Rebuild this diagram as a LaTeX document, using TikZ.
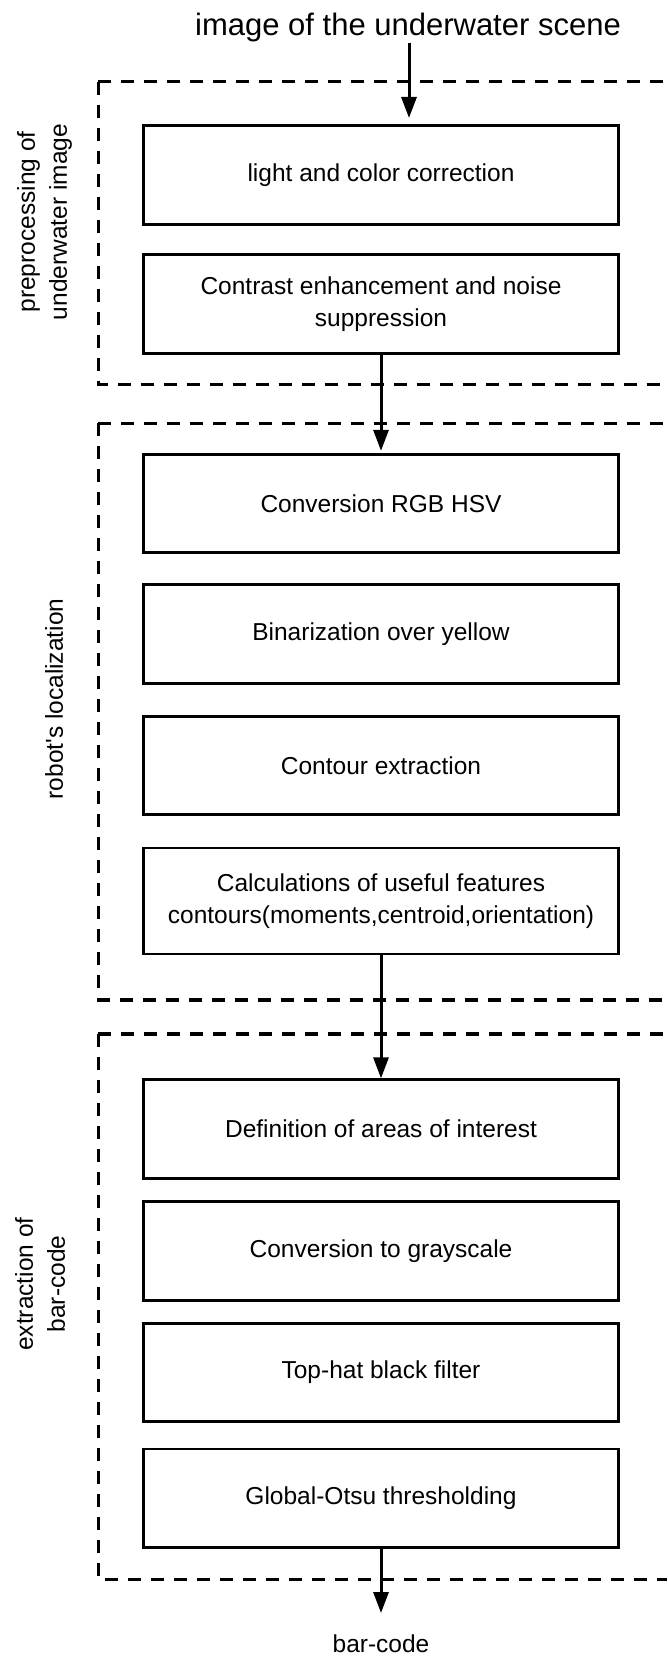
\documentclass[tikz,border=0pt]{standalone}
\usepackage{fontspec}
\setmainfont{Liberation Sans}
\usetikzlibrary{arrows.meta}
\begin{document}
\begin{tikzpicture}[x=1pt,y=-1pt,
  box/.style={draw, line width=2.8pt, minimum width=474.6pt, minimum height=98.5pt,
    inner sep=0pt, align=center, font=\fontsize{24.5}{32}\selectfont},
  grp/.style={line width=3.2pt, dash pattern=on 13pt off 10pt},
  arr/.style={line width=3pt, -{Triangle[length=21pt,width=15pt]}},
  lbl/.style={rotate=90, align=center, inner sep=0pt, font=\fontsize{24.5}{32}\selectfont},
  ttl/.style={inner sep=0pt, anchor=base}
]
\useasboundingbox (0,0) rectangle (667,1656);

% group frames
\draw[grp] (98.3,81.7) -- (667,81.7);
\draw[grp] (98.3,81.7) -- (98.3,384.3) -- (667,384.3);
\draw[grp] (98.3,423.3) -- (667,423.3);
\draw[grp] (98.3,423.3) -- (98.3,1000) -- (667,1000);
\draw[grp] (98.3,1034) -- (667,1034);
\draw[grp] (98.3,1034) -- (98.3,1579.5) -- (667,1579.5);

% group labels
\node[lbl] (l1) at (44.5,222) {preprocessing of\\underwater image};
\node[lbl] (l2) at (54,699) {robot\textquotesingle s localization};
\node[lbl] (l3) at (40,1284) {extraction of\\bar-code};

% title and output
\node[ttl, font=\fontsize{31}{36}\selectfont] (title) at (408,36) {image of the underwater scene};
\node[ttl, font=\fontsize{24.5}{32}\selectfont] (out) at (381,1652) {bar-code};

% process boxes
\node[box] (b1) at (381,175) {light and color correction};
\node[box] (b2) at (381,304) {Contrast enhancement and noise\\suppression};
\node[box] (b3) at (381,503.5) {Conversion RGB HSV};
\node[box] (b4) at (381,634) {Binarization over yellow};
\node[box] (b5) at (381,765.5) {Contour extraction};
\node[box, minimum height=106pt] (b6) at (381,901) {Calculations of useful features\\contours(moments,centroid,orientation)};
\node[box] (b7) at (381,1129) {Definition of areas of interest};
\node[box] (b8) at (381,1251) {Conversion to grayscale};
\node[box] (b9) at (381,1372.5) {Top-hat black filter};
\node[box] (b10) at (381,1498.3) {Global-Otsu thresholding};

% connectors
\coordinate (t1) at (409,118);
\coordinate (t4) at (381,1613);
\draw[arr] (t1 |- title.south) -- (t1);
\draw[arr, shorten >=2pt] (b2.south) -- (b3.north);
\draw[arr] (b6.south) -- (b7.north);
\draw[arr] (b10.south) -- (t4);
\end{tikzpicture}
\end{document}
